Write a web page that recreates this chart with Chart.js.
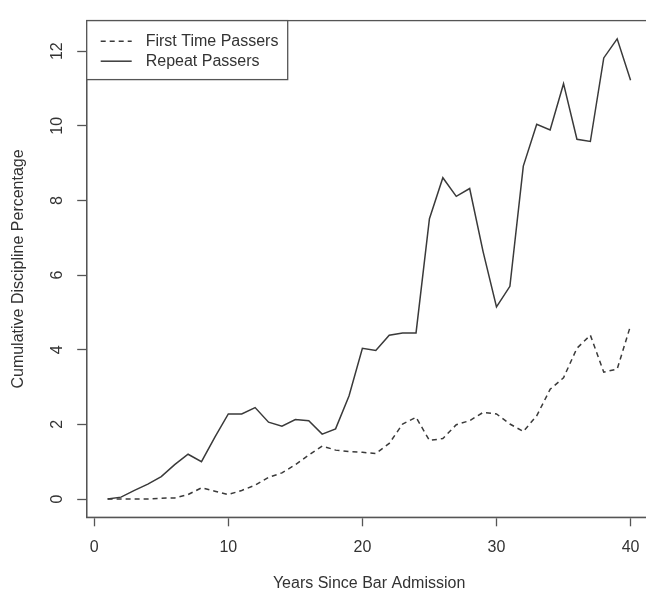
<!DOCTYPE html>
<html>
<head>
<meta charset="utf-8">
<script src="https://cdn.jsdelivr.net/npm/chart.js@4"></script>
<style>
  html, body { margin: 0; padding: 0; background: #fff; overflow: hidden; }
  #wrap { width: 646px; height: 595px; overflow: hidden; }
</style>
</head>
<body>
<div id="wrap"><canvas id="c" width="670" height="595"></canvas></div>
<script>
// years since admission, 1..40
const years = [1,2,3,4,5,6,7,8,9,10,11,12,13,14,15,16,17,18,19,20,
               21,22,23,24,25,26,27,28,29,30,31,32,33,34,35,36,37,38,39,40];
const firstTime = [0, 0, 0, 0, 0.02, 0.03, 0.12, 0.3, 0.21, 0.12,
                   0.23, 0.37, 0.58, 0.7, 0.92, 1.18, 1.42, 1.31, 1.27, 1.25,
                   1.22, 1.49, 2.01, 2.19, 1.57, 1.62, 1.99, 2.1, 2.32, 2.28,
                   2.01, 1.81, 2.23, 2.94, 3.25, 4.04, 4.39, 3.4, 3.48, 4.65];
const repeat = [0, 0.05, 0.23, 0.4, 0.6, 0.92, 1.2, 1.0, 1.66, 2.28,
                2.28, 2.45, 2.06, 1.95, 2.13, 2.1, 1.74, 1.88, 2.76, 4.04,
                3.98, 4.39, 4.45, 4.45, 7.51, 8.61, 8.11, 8.32, 6.63, 5.15,
                5.7, 8.92, 10.04, 9.89, 11.13, 9.64, 9.58, 11.82, 12.33, 11.22];
const xTicks = [0, 10, 20, 30, 40];
const yTicks = [0, 2, 4, 6, 8, 10, 12];
const seriesLabels = ['First Time Passers', 'Repeat Passers'];

const FONT = "'Liberation Sans', Arial, Helvetica, sans-serif";
const INK = '#333';

// R style box + legend in the top-left corner
const boxLegend = {
  id: 'boxLegend',
  afterDraw(chart) {
    const { ctx, chartArea: a } = chart;
    ctx.save();
    ctx.strokeStyle = '#555';
    ctx.lineWidth = 1.3;
    ctx.strokeRect(a.left, a.top, a.right - a.left, a.bottom - a.top);

    const lx = a.left, ly = a.top, lw = 201, lh = 59;
    ctx.fillStyle = '#fff';
    ctx.fillRect(lx, ly, lw, lh);
    ctx.strokeRect(lx, ly, lw, lh);
    ctx.font = '16px ' + FONT;
    ctx.textBaseline = 'middle';
    chart.data.datasets.forEach((ds, i) => {
      const y = ly + 20.6 + i * 20;
      ctx.strokeStyle = ds.borderColor;
      ctx.lineWidth = ds.borderWidth;
      ctx.setLineDash(ds.borderDash || []);
      ctx.beginPath();
      ctx.moveTo(lx + 14, y);
      ctx.lineTo(lx + 45, y);
      ctx.stroke();
      ctx.setLineDash([]);
      ctx.fillStyle = INK;
      ctx.fillText(ds.label, lx + 59, y);
    });
    ctx.restore();
  }
};

new Chart(document.getElementById('c'), {
  type: 'line',
  data: {
    labels: years,
    datasets: [
      { label: seriesLabels[0], data: years.map((x, i) => ({ x, y: firstTime[i] })),
        borderColor: '#3a3a3a', borderWidth: 1.5, borderDash: [5, 4], pointRadius: 0, tension: 0 },
      { label: seriesLabels[1], data: years.map((x, i) => ({ x, y: repeat[i] })),
        borderColor: '#3a3a3a', borderWidth: 1.5, pointRadius: 0, tension: 0 }
    ]
  },
  options: {
    responsive: false,
    animation: false,
    layout: { padding: { top: 11.7, right: 18.5, left: 0, bottom: 0 } },
    plugins: { legend: { display: false }, tooltip: { enabled: false } },
    scales: {
      x: {
        type: 'linear', min: -0.56, max: 41.56,
        afterBuildTicks: s => { s.ticks = xTicks.map(v => ({ value: v })); },
        afterFit: s => { s.height = 77.7; },
        grid: { drawOnChartArea: false, tickLength: 9, color: '#555', tickWidth: 1.3 },
        border: { display: true, color: '#555', width: 1.3 },
        ticks: { font: { size: 16, family: FONT }, color: INK, padding: 12, maxRotation: 0 },
        title: { display: true, text: 'Years Since Bar Admission', color: INK,
                 font: { size: 16, family: FONT }, padding: { top: 0, bottom: 1.4 } }
      },
      y: {
        type: 'linear', min: -0.49, max: 12.82,
        afterBuildTicks: s => { s.ticks = yTicks.map(v => ({ value: v })); },
        afterFit: s => { s.width = 86.7; },
        grid: { drawOnChartArea: false, tickLength: 9.5, color: '#555', tickWidth: 1.3 },
        border: { display: true, color: '#555', width: 1.3 },
        ticks: { font: { size: 16, family: FONT }, color: INK, padding: 11,
                 minRotation: 90, maxRotation: 90, crossAlign: 'center' },
        title: { display: true, text: 'Cumulative Discipline Percentage', color: INK,
                 font: { size: 16, family: FONT }, padding: { top: 8.7, bottom: 0 } }
      }
    }
  },
  plugins: [boxLegend]
});
</script>
</body>
</html>
